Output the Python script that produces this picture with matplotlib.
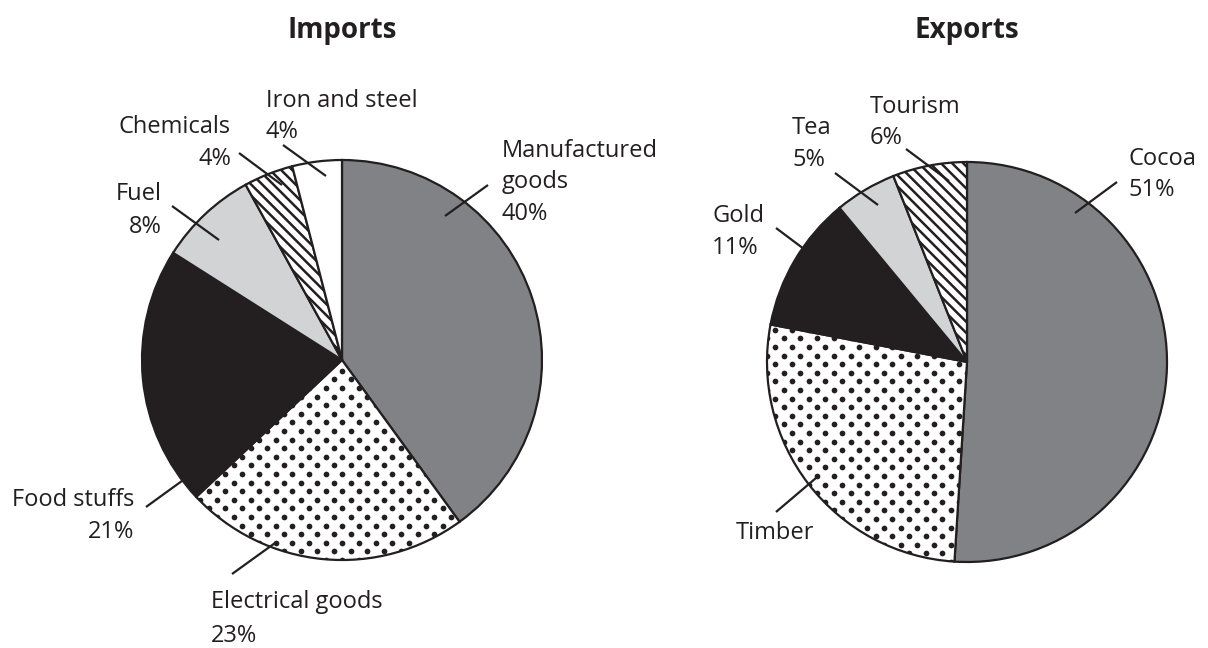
import numpy as np
import matplotlib
matplotlib.use("Agg")
import matplotlib.pyplot as plt

# data
import_labels = ['Manufactured goods', 'Electrical goods', 'Food stuffs', 'Fuel', 'Chemicals', 'Iron and steel']
import_values = [40, 23, 21, 8, 4, 4]
export_labels = ['Cocoa', 'Timber', 'Gold', 'Tea', 'Tourism']
export_values = [51, 27, 11, 5, 6]

# styles (fill, pattern)
GREY = '#808285'
BLACK = '#231f20'
LIGHT = '#d1d3d4'
import_styles = [(GREY, None), ('white', 'dots'), (BLACK, None), (LIGHT, None), ('white', 'hatch'), ('white', None)]
export_styles = [(GREY, None), ('white', 'dots'), (BLACK, None), (LIGHT, None), ('white', 'hatch')]

plt.rcParams['font.family'] = ['Open Sans', 'DejaVu Sans']
plt.rcParams['hatch.linewidth'] = 1.8
W, H = 1208, 648
FS = 17

fig = plt.figure(figsize=(W / 100, H / 100), dpi=100)
ax = fig.add_axes([0, 0, 1, 1])


def Y(py):
    # pixel row -> data y
    return H - py


def draw_pie(values, styles, cx, cy, r):
    wedges, _ = ax.pie(values, center=(cx, Y(cy)), radius=r, startangle=90,
                       counterclock=False, frame=True,
                       wedgeprops=dict(edgecolor=BLACK, linewidth=1.6))
    for w, (fc, pat) in zip(wedges, styles):
        w.set_facecolor(fc)
        if pat == 'hatch':
            w.set_hatch('\\\\\\')
        elif pat == 'dots':
            xs, ys = [], []
            row = 0
            for yy in np.arange(Y(cy) - r, Y(cy) + r, 8.6):
                off = 8.35 if row % 2 else 0
                for xx in np.arange(cx - r + off, cx + r, 16.7):
                    xs.append(xx)
                    ys.append(yy)
                row += 1
            sc = ax.scatter(xs, ys, s=17, color=BLACK, linewidths=0, zorder=w.get_zorder() + 0.1)
            sc.set_clip_path(w)
    return wedges


draw_pie(import_values, import_styles, 342, 360, 200)
draw_pie(export_values, export_styles, 967, 362, 200)


def leader(x0, y0, x1, y1):
    ax.plot([x0, x1], [Y(y0), Y(y1)], color=BLACK, lw=1.6, solid_capstyle='butt', zorder=5)


def label(x, y, lines, ha='left', gap=31.5):
    for i, s in enumerate(lines):
        ax.text(x, Y(y + i * gap), s, ha=ha, va='baseline', fontsize=FS, color=BLACK)


# titles
ax.text(342, Y(38), 'Imports', ha='center', va='baseline', fontsize=20, fontweight='bold', color=BLACK)
ax.text(967, Y(38), 'Exports', ha='center', va='baseline', fontsize=20, fontweight='bold', color=BLACK)

# import labels
p = [f'{v}%' for v in import_values]
label(502, 157, ['Manufactured', 'goods', p[0]])
leader(445, 216, 488, 185)
label(211, 608, [import_labels[1], p[1]], gap=34)
leader(232, 574, 275, 543)
label(134, 506, [import_labels[2], p[2]], ha='right')
leader(146, 507, 186, 478)
label(162, 200, [import_labels[3], p[3]], ha='right', gap=33)
leader(172, 206, 219, 240)
label(231, 133, [import_labels[4], p[4]], ha='right', gap=32)
leader(239, 153, 282, 185)
label(266, 107, [import_labels[5], p[5]], gap=31)
leader(283, 145, 326, 176)

# export labels
q = [f'{v}%' for v in export_values]
label(1128, 165, [export_labels[0], q[0]])
leader(1117, 182, 1075, 213)
label(736, 539, [export_labels[1]])
leader(776, 512, 816, 478)
label(712, 222, [export_labels[2], q[2]])
leader(776, 228, 808, 252)
label(792, 134, [export_labels[3], q[3]])
leader(835, 173, 878, 205)
label(870, 113, [export_labels[4], q[4]])
leader(906, 149, 949, 181)

ax.set_xlim(0, W)
ax.set_ylim(0, H)
ax.set_aspect('equal')
ax.set_axis_off()

fig.savefig('out.png', dpi=100, facecolor='white')
